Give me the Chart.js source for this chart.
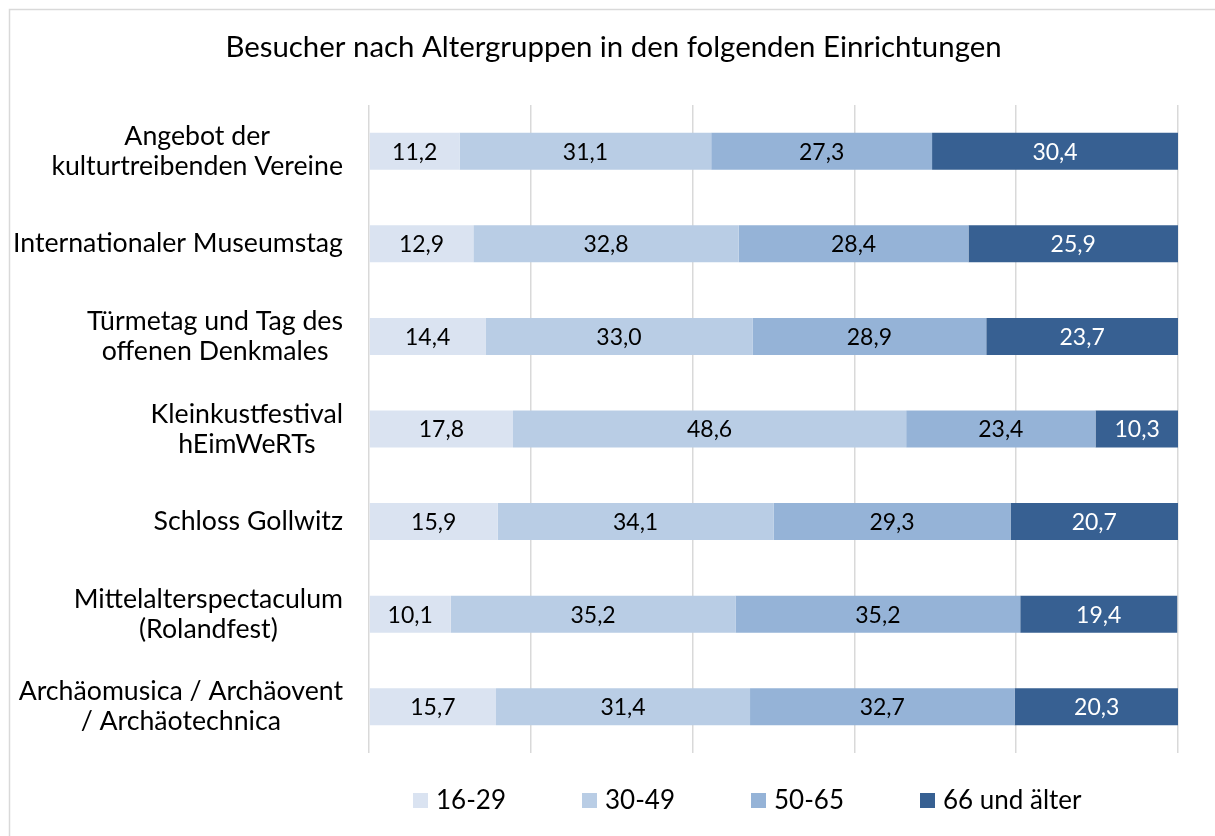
<!DOCTYPE html>
<html lang="de">
<head>
    <meta charset="UTF-8">
    <title>Besucher nach Altergruppen</title>
    <script src="https://cdn.jsdelivr.net/npm/chart.js"></script>
    <style>
        html, body { margin: 0; padding: 0; background: #fff; }
        canvas { display: block; }
    </style>
</head>
<body>
    <canvas id="ageChart" width="1215" height="836"></canvas>
    <script>
        const chartTitle = "Besucher nach Altergruppen in den folgenden Einrichtungen";
        const categories = [
            ["Angebot der", "kulturtreibenden Vereine"],
            ["Internationaler Museumstag"],
            ["Türmetag und Tag des", "offenen Denkmales"],
            ["Kleinkustfestival", "hEimWeRTs"],
            ["Schloss Gollwitz"],
            ["Mittelalterspectaculum", "(Rolandfest)"],
            ["Archäomusica / Archäovent", "/ Archäotechnica"]
        ];
        const seriesNames = ["16-29", "30-49", "50-65", "66 und älter"];
        const age16to29 = [11.2, 12.9, 14.4, 17.8, 15.9, 10.1, 15.7];
        const age30to49 = [31.1, 32.8, 33.0, 48.6, 34.1, 35.2, 31.4];
        const age50to65 = [27.3, 28.4, 28.9, 23.4, 29.3, 35.2, 32.7];
        const age66plus = [30.4, 25.9, 23.7, 10.3, 20.7, 19.4, 20.3];
        const xTicks = [0, 20, 40, 60, 80, 100];

        const colors = ["#dae3f1", "#b9cde5", "#95b3d7", "#376092"];
        const labelColors = ["#000", "#000", "#000", "#fff"];
        const FONT = "Lato, 'Open Sans', sans-serif";

        // frame, title, category labels, value labels and legend
        const decorations = {
            id: "decorations",
            beforeDraw(chart) {
                const ctx = chart.ctx;
                ctx.save();
                ctx.strokeStyle = "#d9d9d9";
                ctx.lineWidth = 1.5;
                ctx.strokeRect(9.5, 9.5, 1300, 900);
                ctx.fillStyle = "#000";
                ctx.font = "29.4px " + FONT;
                ctx.textAlign = "center";
                ctx.textBaseline = "middle";
                ctx.fillText(chartTitle, chart.width / 2 + 6, 48);
                ctx.restore();
            },
            afterDatasetsDraw(chart) {
                const ctx = chart.ctx;
                ctx.save();
                ctx.font = "23px " + FONT;
                ctx.textAlign = "center";
                ctx.textBaseline = "middle";
                chart.data.datasets.forEach((ds, i) => {
                    chart.getDatasetMeta(i).data.forEach((bar, j) => {
                        const p = bar.getProps(["x", "y", "base"], true);
                        ctx.fillStyle = labelColors[i];
                        ctx.fillText(ds.data[j].toFixed(1).replace(".", ","), (p.x + p.base) / 2, p.y + 1);
                    });
                });
                ctx.restore();
            },
            afterDraw(chart) {
                const ctx = chart.ctx;
                const yScale = chart.scales.y;
                ctx.save();
                ctx.fillStyle = "#000";
                ctx.font = "26.7px " + FONT;
                ctx.textAlign = "center";
                ctx.textBaseline = "middle";
                const lineH = 30;
                categories.forEach((lines, i) => {
                    const yc = yScale.getPixelForValue(i);
                    const maxW = Math.max(...lines.map(l => ctx.measureText(l).width));
                    const cx = 343 - maxW / 2;
                    lines.forEach((l, k) => {
                        ctx.fillText(l, cx, yc + (k - (lines.length - 1) / 2) * lineH);
                    });
                });

                // legend
                ctx.font = "26px " + FONT;
                ctx.textAlign = "left";
                const ly = 800;
                let lx = 413;
                seriesNames.forEach((name, i) => {
                    ctx.fillStyle = colors[i];
                    ctx.fillRect(lx, ly - 7, 15, 15);
                    ctx.fillStyle = "#000";
                    ctx.fillText(name, lx + 23, ly + 1);
                    lx += 169;
                });
                ctx.restore();
            }
        };

        new Chart(document.getElementById("ageChart"), {
            type: "bar",
            data: {
                labels: categories,
                datasets: [age16to29, age30to49, age50to65, age66plus].map((values, i) => ({
                    label: seriesNames[i],
                    data: values,
                    backgroundColor: colors[i],
                    borderWidth: 0,
                    categoryPercentage: 1.0,
                    barPercentage: 0.4
                }))
            },
            options: {
                indexAxis: "y",
                responsive: false,
                animation: false,
                layout: { padding: { left: 369, right: 37, top: 105, bottom: 83 } },
                scales: {
                    x: {
                        stacked: true,
                        min: 0,
                        max: 100,
                        afterBuildTicks: scale => { scale.ticks = xTicks.map(v => ({ value: v })); },
                        ticks: { display: false },
                        grid: { color: "#d9d9d9", lineWidth: 1.5, drawTicks: false },
                        border: { display: false }
                    },
                    y: {
                        stacked: true,
                        display: false
                    }
                },
                plugins: {
                    legend: { display: false },
                    tooltip: { enabled: false },
                    title: { display: false }
                }
            },
            plugins: [decorations]
        });
    </script>
</body>
</html>
